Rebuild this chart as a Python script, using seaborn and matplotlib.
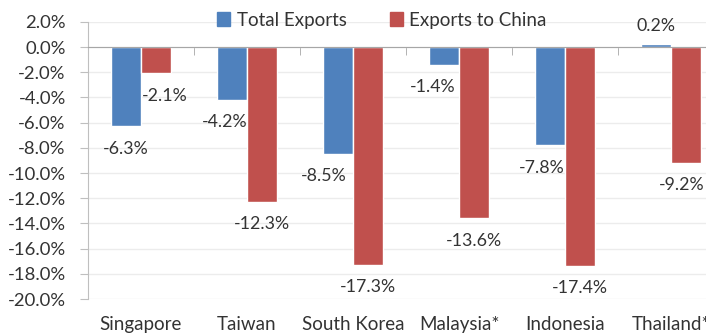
import matplotlib
matplotlib.use("Agg")
import matplotlib.pyplot as plt
import seaborn as sns
import pandas as pd
import numpy as np
from matplotlib.ticker import FixedLocator

countries = ["Singapore", "Taiwan", "South Korea", "Malaysia*", "Indonesia", "Thailand*"]
total_exports = [-6.3, -4.2, -8.5, -1.4, -7.8, 0.2]
exports_china = [-2.1, -12.3, -17.3, -13.6, -17.4, -9.2]
series_names = ["Total Exports", "Exports to China"]
yticks = list(range(-20, 3, 2))

df = pd.DataFrame({
    "country": countries * 2,
    "series": [series_names[0]] * len(countries) + [series_names[1]] * len(countries),
    "value": total_exports + exports_china,
})

sns.set_style("white")
FONT = ["Lato", "DejaVu Sans"]
plt.rcParams["font.family"] = FONT
TXT = "#333333"

fig = plt.figure(figsize=(7.06, 3.35), dpi=100)
ax = fig.add_axes([88 / 706, 1 - 299 / 335, 1 - 88 / 706, (299 - 21.8) / 335])

sns.barplot(data=df, x="country", y="value", hue="series", order=countries,
            hue_order=series_names, palette=["#4F81BD", "#C0504D"],
            width=0.57, gap=0, ax=ax, legend=True, saturation=1)

ax.set_ylim(-20, 2)
ax.set_xlim(-0.5, 5.33)
ax.set_yticks(yticks)
ax.set_yticklabels([f"{t:.1f}%" for t in yticks])
ax.yaxis.grid(True, color="#ececec", linewidth=1)
ax.set_axisbelow(True)
ax.set_xlabel("")
ax.set_ylabel("")

for s in ["right", "bottom"]:
    ax.spines[s].set_visible(False)
ax.spines["left"].set_color("#bfbfbf")
ax.spines["top"].set_position(("data", 0))
ax.spines["top"].set_color("#a6a6a6")
ax.spines["top"].set_zorder(5)

ax.xaxis.set_minor_locator(FixedLocator(np.arange(0.5, 5.6, 1)))
ax.tick_params(axis="x", which="minor", top=True, bottom=False, direction="in",
               length=6, color="#a6a6a6")
ax.tick_params(axis="x", which="major", top=False, bottom=True, length=0,
               labelbottom=True, labeltop=False, pad=12, labelsize=13.5, labelcolor=TXT)
ax.tick_params(axis="y", which="major", left=True, length=6, color="#bfbfbf",
               pad=10, labelsize=13.3, labelcolor=TXT)

label_dx = [[0, -5, -10, -8, -6, 0], [6, 0, 0, 0, 0, -3]]
for si, cont in enumerate(ax.containers):
    for bi, bar in enumerate(cont):
        v = bar.get_height()
        xc = bar.get_x() + bar.get_width() / 2
        off = 13 if v > 0 else -16
        ax.annotate(f"{v:.1f}%", (xc, v), xytext=(label_dx[si][bi], off),
                    textcoords="offset points", ha="center", va="center",
                    fontsize=12.8, color=TXT)

ax.get_legend().remove()
handles = [plt.Rectangle((0, 0), 1, 1, color=c) for c in ["#4F81BD", "#C0504D"]]
fig.legend(handles, series_names, loc="center", bbox_to_anchor=(0.541, 0.94), ncol=2,
           frameon=False, handlelength=0.7, handleheight=0.7, handletextpad=0.35,
           columnspacing=2.3, fontsize=13.5, labelcolor=TXT)

fig.savefig("out.png", dpi=100)
